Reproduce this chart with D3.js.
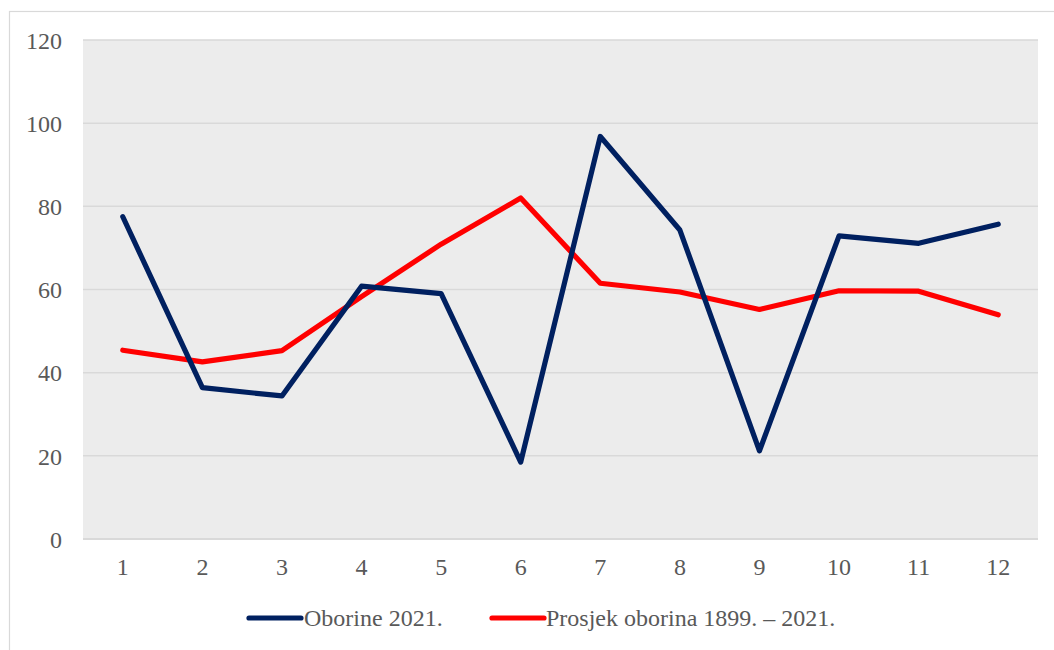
<!DOCTYPE html>
<html><head><meta charset="utf-8">
<script src="https://cdn.jsdelivr.net/npm/d3@7"></script>
<style>
html,body{margin:0;padding:0;background:#fff;}
svg{display:block;}
</style></head>
<body>
<svg id="chart" width="1054" height="650"></svg>
<script>
const months = ["1","2","3","4","5","6","7","8","9","10","11","12"];
const oborine2021 = [77.5, 36.4, 34.4, 60.8, 59.0, 18.5, 96.8, 74.3, 21.2, 72.9, 71.1, 75.7];
const prosjek = [45.4, 42.6, 45.3, 58.3, 70.9, 82.0, 61.5, 59.4, 55.2, 59.7, 59.6, 53.9];
const yTicks = [0, 20, 40, 60, 80, 100, 120];
const seriesNames = ["Oborine 2021.", "Prosjek oborina 1899. – 2021."];
const seriesColors = ["#002060", "#ff0000"];

const svg = d3.select("#chart");
const font = "'Liberation Serif','Times New Roman',serif";
const textColor = "#595959";
const fs = 24;

// outer chart border
svg.append("rect").attr("x", 9.5).attr("y", 11.5).attr("width", 1100).attr("height", 700)
  .attr("fill", "#fff").attr("stroke", "#d9d9d9").attr("stroke-width", 1.2);

const plot = {left: 83, right: 1038, top: 40, bottom: 539};
const x = d3.scaleBand().domain(months).range([plot.left, plot.right]).padding(0);
const y = d3.scaleLinear().domain([0, 120]).range([plot.bottom, plot.top]);

svg.append("rect").attr("x", plot.left).attr("y", plot.top)
  .attr("width", plot.right - plot.left).attr("height", plot.bottom - plot.top)
  .attr("fill", "#ececec");

// gridlines
svg.append("g").selectAll("line").data(yTicks).join("line")
  .attr("x1", plot.left).attr("x2", plot.right)
  .attr("y1", d => y(d)).attr("y2", d => y(d))
  .attr("stroke", "#d9d9d9").attr("stroke-width", d => d === 0 ? 2 : 1.5);

// y axis labels
const yAxis = d3.axisLeft(y).tickValues(yTicks).tickSize(0).tickPadding(0);
const gy = svg.append("g").attr("transform", `translate(62,0)`).call(yAxis);
gy.select(".domain").remove();
gy.selectAll("text").attr("font-family", font).attr("font-size", fs).attr("fill", textColor)
  .attr("dy", "0.34em");

// x axis labels
const xAxis = d3.axisBottom(x).tickSize(0).tickPadding(0);
const gx = svg.append("g").attr("transform", `translate(0,558)`).call(xAxis);
gx.select(".domain").remove();
gx.selectAll("text").attr("font-family", font).attr("font-size", fs).attr("fill", textColor)
  .attr("dy", "0.71em");

const line = d3.line().x((d, i) => x(months[i]) + x.bandwidth() / 2).y(d => y(d));

[prosjek, oborine2021].forEach((s, k) => {
  const idx = k === 0 ? 1 : 0;
  svg.append("path").datum(s).attr("d", line)
    .attr("fill", "none").attr("stroke", seriesColors[idx]).attr("stroke-width", 5.2)
    .attr("stroke-linejoin", "round").attr("stroke-linecap", "round");
});

// legend
const legendItems = [{x: 249, tx: 304}, {x: 492, tx: 546}];
legendItems.forEach((it, i) => {
  svg.append("line").attr("x1", it.x).attr("x2", it.x + 52).attr("y1", 618).attr("y2", 618)
    .attr("stroke", seriesColors[i]).attr("stroke-width", 5.2).attr("stroke-linecap", "round");
  svg.append("text").attr("x", it.tx).attr("y", 618).attr("dy", "0.34em")
    .attr("font-family", font).attr("font-size", fs).attr("fill", textColor)
    .text(seriesNames[i]);
});
</script>
</body></html>
